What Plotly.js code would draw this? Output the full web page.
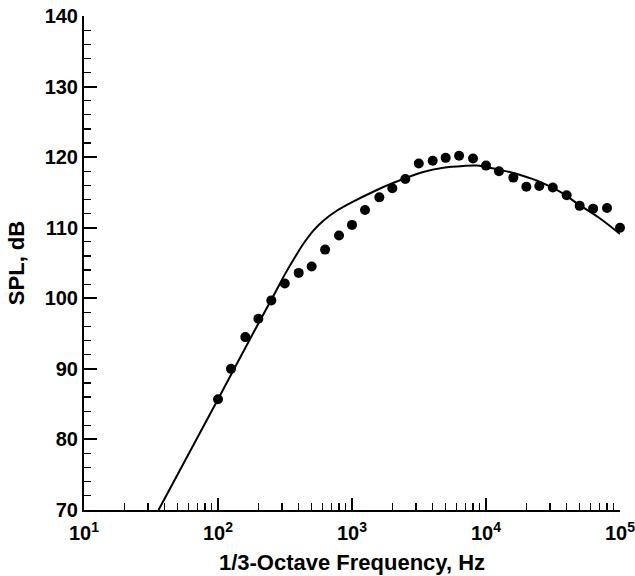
<!DOCTYPE html>
<html>
<head>
<meta charset="utf-8">
<script src="https://cdn.plot.ly/plotly-3.0.1.min.js"></script>
<style>html,body{margin:0;padding:0;background:#fff;}#chart{width:635px;height:576px;}</style>
</head>
<body>
<div id="chart"></div>
<script>
// Measured 1/3-octave SPL (dots)
var FREQ_DOTS = [100,125,160,200,250,315,400,500,630,800,1000,1250,1600,2000,2500,3150,4000,5000,6300,8000,10000,12500,16000,20000,25000,31500,40000,50000,63000,80000,100000];
var SPL_DOTS = [85.7,90.0,94.5,97.1,99.7,102.1,103.6,104.5,106.9,108.9,110.4,112.5,114.3,115.6,116.9,119.1,119.5,119.9,120.2,119.8,118.8,118.0,117.1,115.8,115.9,115.7,114.6,113.1,112.7,112.8,110.0];

// Predicted spectrum (solid line)
var FREQ_LINE = [36,100,173,260,320,380,440,515,611,769,1020,1440,2000,3400,4800,6800,8500,10000,12700,15000,17800,25300,35600,50000,71000,100000];
var SPL_LINE = [70.0,85.7,94.2,100.4,103.6,106.0,107.9,109.6,111.0,112.4,113.7,115.1,116.3,117.9,118.5,118.75,118.8,118.6,118.2,117.9,117.5,116.5,115.1,113.2,111.3,109.1];

// Axis ticks
var X_TICKVALS = [10,100,1000,10000,100000];
var X_TICKTEXT = ['10<sup>1</sup>','10<sup>2</sup>','10<sup>3</sup>','10<sup>4</sup>','10<sup>5</sup>'];
var X_MINOR = [];
for (var d = 10; d < 100000; d *= 10) { for (var m = 2; m <= 9; m++) X_MINOR.push(m * d); }

var FONT = 'Liberation Sans, Arial, Helvetica, sans-serif';

var traces = [
  {x: FREQ_LINE, y: SPL_LINE, type: 'scatter', mode: 'lines',
   line: {color: '#000', width: 2, shape: 'spline', smoothing: 1.0}, hoverinfo: 'skip'},
  {x: FREQ_DOTS, y: SPL_DOTS, type: 'scatter', mode: 'markers', cliponaxis: false,
   marker: {color: '#000', size: 10, symbol: 'circle'}}
];

var layout = {
  width: 635, height: 576,
  margin: {l: 84, r: 15, t: 16, b: 66},
  paper_bgcolor: '#fff', plot_bgcolor: '#fff',
  showlegend: false,
  font: {family: FONT, color: '#000'},
  xaxis: {
    type: 'log', range: [1, 5],
    tickmode: 'array', tickvals: X_TICKVALS, ticktext: X_TICKTEXT,
    ticks: 'inside', ticklen: 12, tickwidth: 2, tickcolor: '#000',
    minor: {tickmode: 'array', tickvals: X_MINOR, ticks: 'inside', ticklen: 7, tickwidth: 1.2, tickcolor: '#000', showgrid: false},
    showline: true, linecolor: '#000', linewidth: 2,
    showgrid: false, zeroline: false,
    ticklabelstandoff: 4, ticklabeloverflow: 'allow',
    tickfont: {family: FONT, size: 20, weight: 'bold', color: '#000'},
    title: {text: '1/3-Octave Frequency, Hz', font: {family: FONT, size: 22, weight: 'bold', color: '#000'}, standoff: 12},
    automargin: false, fixedrange: true
  },
  yaxis: {
    range: [70, 140], dtick: 10, tick0: 70,
    ticks: 'inside', ticklen: 13, tickwidth: 2, tickcolor: '#000',
    minor: {dtick: 2, ticks: 'inside', ticklen: 7, tickwidth: 1.2, tickcolor: '#000', showgrid: false},
    showline: true, linecolor: '#000', linewidth: 2,
    showgrid: false, zeroline: false,
    ticklabeloverflow: 'allow',
    tickfont: {family: FONT, size: 20, weight: 'bold', color: '#000'},
    title: {text: 'SPL, dB', font: {family: FONT, size: 22, weight: 'bold', color: '#000'}, standoff: 14},
    automargin: false, fixedrange: true
  }
};

Plotly.newPlot('chart', traces, layout, {displayModeBar: false, staticPlot: true});
</script>
</body>
</html>
